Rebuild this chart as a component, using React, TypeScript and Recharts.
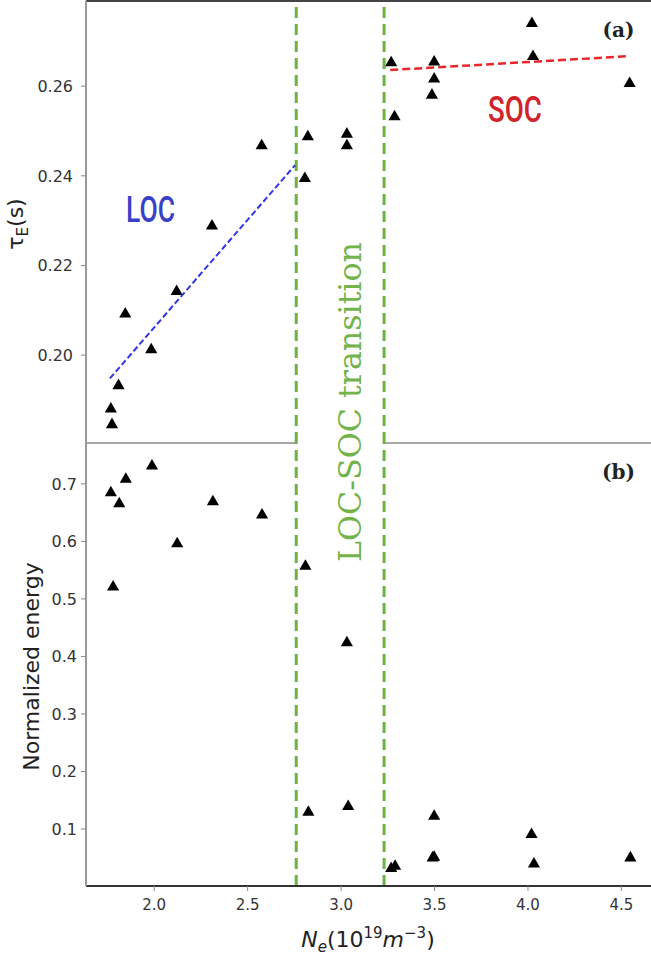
import React from 'react';
import {
  ScatterChart,
  Scatter,
  XAxis,
  YAxis,
  ZAxis,
  ReferenceLine,
  ReferenceDot,
} from 'recharts';

// Panel (a): electron density (10^19 m^-3) vs energy confinement time τE (s)
const tauDensity = [1.768, 1.774, 1.809, 1.845, 1.984, 2.12, 2.309, 2.575, 2.806, 2.822, 3.031, 3.031, 3.268, 3.286, 3.498, 3.498, 3.486, 4.021, 4.027, 4.544];
const tauValues = [0.188, 0.1845, 0.1932, 0.2092, 0.2012, 0.2142, 0.2288, 0.2467, 0.2394, 0.2487, 0.2493, 0.2467, 0.2652, 0.2532, 0.2654, 0.2616, 0.258, 0.274, 0.2666, 0.2606];

// Panel (b): electron density vs normalized energy
const energyDensity = [1.768, 1.813, 1.848, 1.78, 1.988, 2.123, 2.314, 2.577, 2.809, 2.825, 3.031, 3.038, 3.268, 3.289, 3.498, 3.49, 3.498, 4.019, 4.032, 4.548];
const energyValues = [0.6846, 0.6655, 0.7079, 0.5206, 0.731, 0.596, 0.669, 0.646, 0.5566, 0.1293, 0.4238, 0.1392, 0.0313, 0.0354, 0.1223, 0.0499, 0.051, 0.0905, 0.0394, 0.0499];

// Linear fits in each confinement regime
const locFitDensity = [1.763, 2.754];
const locFitTau = [0.1948, 0.2424];
const socFitDensity = [3.263, 4.54];
const socFitTau = [0.2636, 0.2667];

// LOC-SOC transition boundaries
const transitionBounds = [2.76, 3.23];

// Tick values
const densityTicks = [2.0, 2.5, 3.0, 3.5, 4.0, 4.5];
const tauTicks = [0.2, 0.22, 0.24, 0.26];
const energyTicks = [0.1, 0.2, 0.3, 0.4, 0.5, 0.6, 0.7];

const X_DOMAIN: [number, number] = [1.635, 4.669];
const TAU_DOMAIN: [number, number] = [0.1804, 0.279];
const ENERGY_DOMAIN: [number, number] = [0.001, 0.771];

const zip = (xs: number[], ys: number[]) => xs.map((x, i) => ({ x, y: ys[i] }));

const tauPoints = zip(tauDensity, tauValues);
const energyPoints = zip(energyDensity, energyValues);
const locFit = zip(locFitDensity, locFitTau);
const socFit = zip(socFitDensity, socFitTau);

const SANS = '"DejaVu Sans", sans-serif';
const SERIF = '"DejaVu Serif", serif';
const GREEN = '#6db33f';
const CHART_W = 663;

const emptyShape = () => <g />;

const annotation =
  (text: string, style: React.SVGProps<SVGTextElement>) =>
  (props: any) => {
    const vb = props.viewBox || {};
    return (
      <text x={vb.x} y={vb.y} {...style}>
        {text}
      </text>
    );
  };

const transitionLabel = (props: any) => {
  const vb = props.viewBox || {};
  const x = vb.x;
  const y = vb.y;
  return (
    <text
      x={x}
      y={y}
      transform={`rotate(-90 ${x} ${y})`}
      textAnchor="middle"
      fontFamily={SERIF}
      fontSize={32}
      fill="#72b34a"
      textLength={320}
      lengthAdjust="spacingAndGlyphs"
    >
      LOC-SOC transition
    </text>
  );
};

const tauLabel = (props: any) => {
  const vb = props.viewBox;
  const cx = vb.x + 23;
  const cy = vb.y + vb.height / 2 + 2;
  return (
    <text
      x={cx}
      y={cy}
      transform={`rotate(-90 ${cx} ${cy})`}
      textAnchor="middle"
      fontFamily={SANS}
      fontSize={22}
      fill="#222"
    >
      τ<tspan dy={5} fontSize={15}>E</tspan>
      <tspan dy={-5}>(s)</tspan>
    </text>
  );
};

const energyLabel = (props: any) => {
  const vb = props.viewBox;
  const cx = vb.x + 39;
  const cy = vb.y + vb.height / 2 + 2;
  return (
    <text
      x={cx}
      y={cy}
      transform={`rotate(-90 ${cx} ${cy})`}
      textAnchor="middle"
      fontFamily={SANS}
      fontSize={22}
      fill="#222"
    >
      Normalized energy
    </text>
  );
};

const densityLabel = (props: any) => {
  const vb = props.viewBox;
  const cx = vb.x + 282;
  const cy = vb.y + 61;
  return (
    <text x={cx} y={cy} textAnchor="middle" fontFamily={SANS} fontSize={22} fill="#222">
      <tspan fontStyle="italic">N</tspan>
      <tspan fontStyle="italic" fontSize={15} dy={5}>e</tspan>
      <tspan dy={-5}>(10</tspan>
      <tspan fontSize={15} dy={-9}>19</tspan>
      <tspan fontStyle="italic" dy={9}>m</tspan>
      <tspan fontSize={15} dy={-9}>−3</tspan>
      <tspan dy={9}>)</tspan>
    </text>
  );
};

const tickStyle = { fill: '#333', fontSize: 16, fontFamily: SANS };

export default function App() {
  return (
    <div
      style={{
        position: 'absolute',
        left: 0,
        top: 0,
        width: 651,
        height: 956,
        overflow: 'hidden',
        background: '#fff',
        fontFamily: SANS,
      }}
    >
      {/* Panel (a): confinement time */}
      <div style={{ position: 'absolute', left: 0, top: 0 }}>
        <ScatterChart width={CHART_W} height={444} margin={{ top: 1, right: 10, bottom: 1, left: 0 }}>
          <XAxis type="number" dataKey="x" domain={X_DOMAIN} allowDataOverflow hide ticks={densityTicks} />
          <YAxis
            type="number"
            dataKey="y"
            domain={TAU_DOMAIN}
            allowDataOverflow
            ticks={tauTicks}
            tickFormatter={(v: number) => v.toFixed(2)}
            width={86}
            axisLine={{ stroke: '#9a9a9a', strokeWidth: 2 }}
            tickLine={{ stroke: '#888' }}
            tickSize={5}
            tickMargin={8}
            tick={tickStyle}
            label={tauLabel}
          />
          <ZAxis range={[45, 45]} />
          <ReferenceLine y={TAU_DOMAIN[1]} stroke="#444" strokeWidth={2} />
          <ReferenceLine
            segment={[
              { x: X_DOMAIN[0], y: TAU_DOMAIN[0] },
              { x: transitionBounds[0], y: TAU_DOMAIN[0] },
            ]}
            stroke="#8a8a8a"
            strokeWidth={1.5}
          />
          <ReferenceLine
            segment={[
              { x: transitionBounds[1], y: TAU_DOMAIN[0] },
              { x: X_DOMAIN[1], y: TAU_DOMAIN[0] },
            ]}
            stroke="#8a8a8a"
            strokeWidth={1.5}
          />
          {transitionBounds.map((b) => (
            <ReferenceLine key={`a-${b}`} x={b} stroke={GREEN} strokeWidth={3} strokeDasharray="11 6" />
          ))}
          <Scatter
            data={locFit}
            line={{ stroke: '#2f36e6', strokeWidth: 2, strokeDasharray: '6 3' }}
            shape={emptyShape}
            isAnimationActive={false}
          />
          <Scatter
            data={socFit}
            line={{ stroke: '#e8262c', strokeWidth: 2.5, strokeDasharray: '8 4' }}
            shape={emptyShape}
            isAnimationActive={false}
          />
          <Scatter data={tauPoints} fill="#000" shape="triangle" isAnimationActive={false} />
          <ReferenceDot
            x={1.849}
            y={0.2297}
            r={0}
            fill="none"
            stroke="none"
            label={annotation('LOC', {
              fontFamily: 'Roboto, sans-serif',
              fontWeight: 500,
              fontSize: 37,
              fill: '#3a3fc8',
              textLength: 49,
              lengthAdjust: 'spacingAndGlyphs',
            })}
          />
          <ReferenceDot
            x={3.786}
            y={0.252}
            r={0}
            fill="none"
            stroke="none"
            label={annotation('SOC', {
              fontFamily: 'Roboto, sans-serif',
              fontWeight: 500,
              fontSize: 37,
              fill: '#d2232a',
              textLength: 54,
              lengthAdjust: 'spacingAndGlyphs',
            })}
          />
          <ReferenceDot
            x={4.484}
            y={0.2709}
            r={0}
            fill="none"
            stroke="none"
            label={annotation('(a)', {
              fontFamily: SERIF,
              fontWeight: 700,
              fontSize: 20,
              fill: '#222',
              textAnchor: 'middle',
            })}
          />
        </ScatterChart>
      </div>

      {/* Panel (b): normalized energy */}
      <div style={{ position: 'absolute', left: 0, top: 0 }}>
        <ScatterChart width={CHART_W} height={956} margin={{ top: 443, right: 10, bottom: 0, left: 0 }}>
          <XAxis
            type="number"
            dataKey="x"
            domain={X_DOMAIN}
            allowDataOverflow
            ticks={densityTicks}
            tickFormatter={(v: number) => v.toFixed(1)}
            height={70}
            axisLine={{ stroke: '#333', strokeWidth: 2 }}
            tickLine={{ stroke: '#888' }}
            tickSize={5}
            tickMargin={8}
            tick={{ ...tickStyle, fontSize: 15 }}
            label={densityLabel}
          />
          <YAxis
            type="number"
            dataKey="y"
            domain={ENERGY_DOMAIN}
            allowDataOverflow
            ticks={energyTicks}
            tickFormatter={(v: number) => v.toFixed(1)}
            width={86}
            axisLine={{ stroke: '#9a9a9a', strokeWidth: 2 }}
            tickLine={{ stroke: '#888' }}
            tickSize={5}
            tickMargin={4}
            tick={tickStyle}
            label={energyLabel}
          />
          <ZAxis range={[45, 45]} />
          {transitionBounds.map((b) => (
            <ReferenceLine key={`b-${b}`} x={b} stroke={GREEN} strokeWidth={3} strokeDasharray="11 6" />
          ))}
          <Scatter data={energyPoints} fill="#000" shape="triangle" isAnimationActive={false} />
          <ReferenceDot
            x={4.484}
            y={0.7084}
            r={0}
            fill="none"
            stroke="none"
            label={annotation('(b)', {
              fontFamily: SERIF,
              fontWeight: 700,
              fontSize: 20,
              fill: '#222',
              textAnchor: 'middle',
            })}
          />
          <ReferenceDot
            x={3.107}
            y={0.8423}
            r={0}
            fill="none"
            stroke="none"
            ifOverflow="visible"
            label={transitionLabel}
          />
        </ScatterChart>
      </div>
    </div>
  );
}
